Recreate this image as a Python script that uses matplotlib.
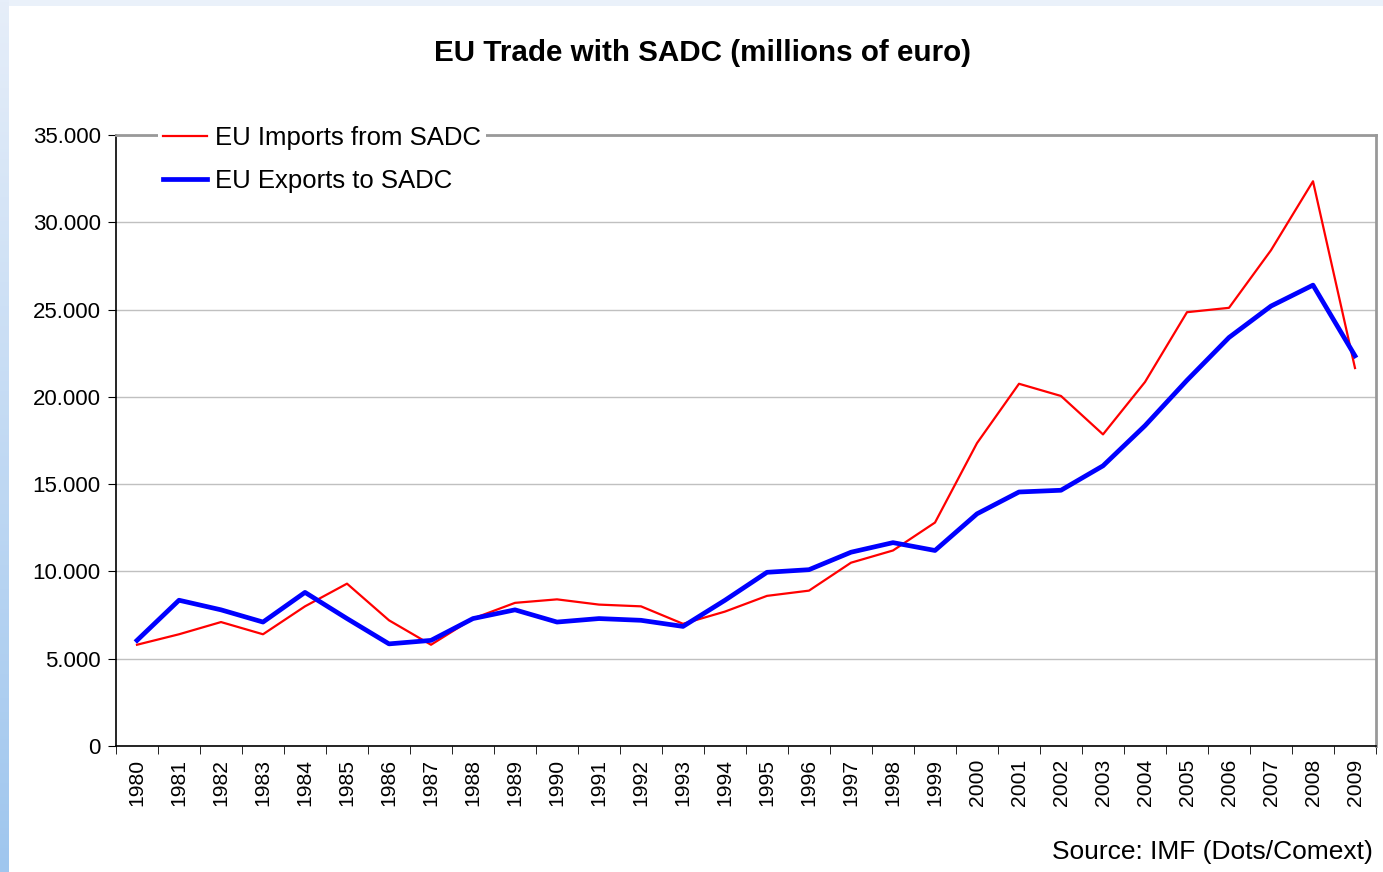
import numpy as np
import matplotlib
matplotlib.use("Agg")
import matplotlib.pyplot as plt
from matplotlib.ticker import FuncFormatter, FixedLocator
from matplotlib.patches import Rectangle

plt.rcParams['font.family'] = ['Liberation Sans', 'DejaVu Sans']

years = list(range(1980, 2010))
imports = [5800, 6400, 7100, 6400, 8000, 9300, 7200, 5800, 7300, 8200,
           8400, 8100, 8000, 7000, 7700, 8600, 8900, 10500, 11200, 12800,
           17350, 20750, 20050, 17850, 20850, 24850, 25100, 28400, 32350, 21650]
exports = [6050, 8350, 7800, 7100, 8800, 7300, 5850, 6050, 7300, 7800,
           7100, 7300, 7200, 6850, 8350, 9950, 10100, 11100, 11650, 11200,
           13300, 14550, 14650, 16050, 18350, 20950, 23400, 25200, 26400, 22350]

fig = plt.figure(figsize=(13.83, 8.72), dpi=100)
fig.patch.set_facecolor('#eaf1fa')

# left blue strip with gradient, white panel
bg = fig.add_axes([0, 0, 1, 1], zorder=-10)
bg.set_axis_off()
grad = np.linspace(0, 1, 256).reshape(-1, 1)
bg.imshow(grad, extent=[0, 9 / 1383, 0, 1], aspect='auto', origin='upper',
          cmap=matplotlib.colors.LinearSegmentedColormap.from_list('g', ['#e6eef9', '#9fc6ee']))
bg.add_patch(Rectangle((9 / 1383, 0), 1, 1 - 6 / 872, facecolor='white', edgecolor='none'))
bg.set_xlim(0, 1)
bg.set_ylim(0, 1)

ax = fig.add_axes([116 / 1383, 1 - 746 / 872, 1260 / 1383, 611 / 872])
x = np.arange(len(years))
ax.plot(x, imports, color='#ff0000', lw=1.6, label='EU Imports from SADC', zorder=3)
ax.plot(x, exports, color='#0000ff', lw=3.4, label='EU Exports to SADC', zorder=4)

ax.set_xlim(-0.5, len(years) - 0.5)
ax.set_ylim(0, 35000)
ax.set_yticks(np.arange(0, 35001, 5000))
ax.yaxis.set_major_formatter(FuncFormatter(lambda v, p: '0' if v == 0 else f'{int(v):,}'.replace(',', '.')))
ax.grid(axis='y', color='#c0c0c0', lw=1)
ax.set_axisbelow(True)

ax.set_xticks(x)
ax.set_xticklabels([str(y) for y in years], rotation=90)
ax.xaxis.set_minor_locator(FixedLocator(np.arange(-0.5, len(years), 1)))
ax.tick_params(axis='x', which='major', length=0, pad=9, labelsize=15.2)
ax.tick_params(axis='x', which='minor', length=6, direction='out', color='black')
ax.tick_params(axis='y', length=6, direction='out', labelsize=16, pad=5)

for s in ['left', 'bottom']:
    ax.spines[s].set_color('black')
    ax.spines[s].set_linewidth(1.2)
for s in ['top', 'right']:
    ax.spines[s].set_color('#999999')
    ax.spines[s].set_linewidth(2)

leg = ax.legend(loc='upper left', bbox_to_anchor=(158 / 1383, 1 - 121 / 872),
                bbox_transform=fig.transFigure, fontsize=18.5, frameon=True,
                facecolor='white', edgecolor='none', framealpha=1, fancybox=False,
                handlelength=1.7, handletextpad=0.3, labelspacing=0.72,
                borderpad=0.2, borderaxespad=0)

fig.text(702 / 1383, 1 - 53 / 872, 'EU Trade with SADC (millions of euro)',
         ha='center', va='center', fontsize=21.3, fontweight='bold')
fig.text(1373 / 1383, 1 - 852 / 872, 'Source: IMF (Dots/Comext)',
         ha='right', va='center', fontsize=19)

fig.savefig('out.png', dpi=100, facecolor=fig.get_facecolor())
